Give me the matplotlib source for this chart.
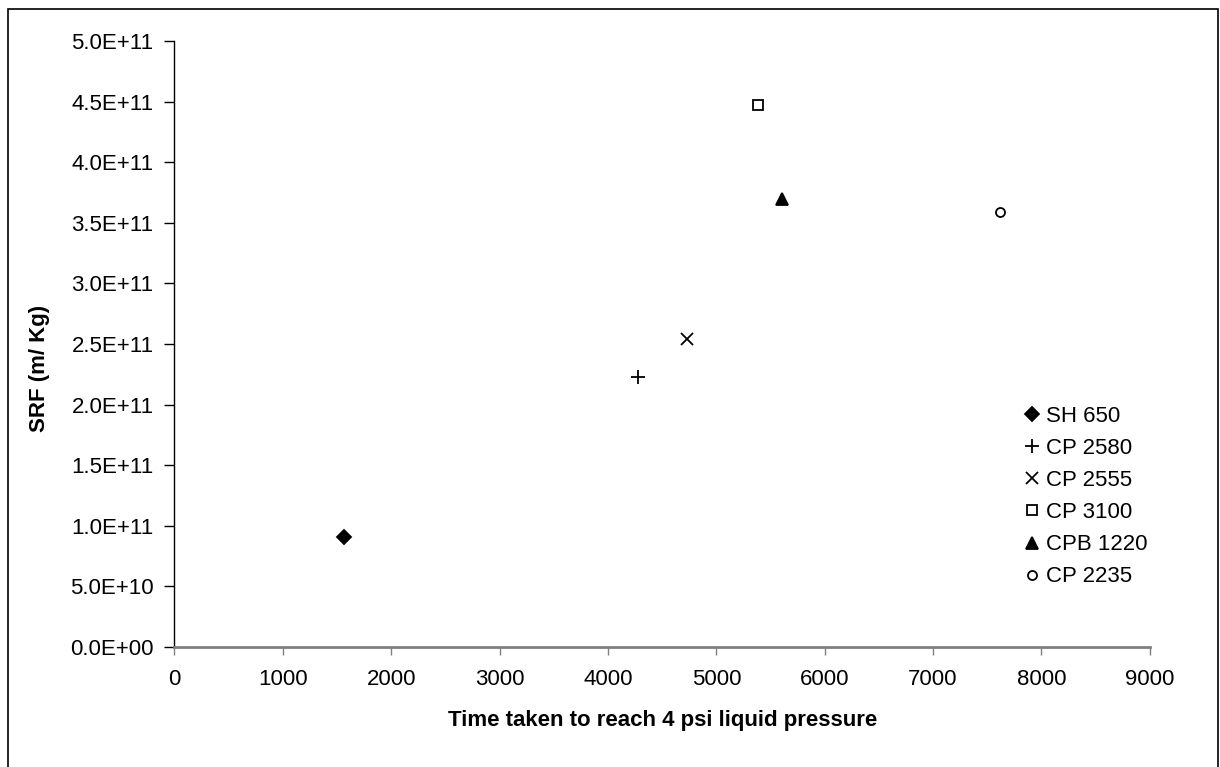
import matplotlib
matplotlib.use("Agg")
import matplotlib.pyplot as plt
from matplotlib.patches import Rectangle

plt.rcParams['font.family'] = ['Liberation Sans', 'DejaVu Sans']

# data
names = ['SH 650', 'CP 2580', 'CP 2555', 'CP 3100', 'CPB 1220', 'CP 2235']
time_taken = [1565, 4275, 4730, 5385, 5605, 7620]
srf = [9.1e10, 2.23e11, 2.54e11, 4.47e11, 3.70e11, 3.59e11]

markers = ['D', '+', 'x', 's', '^', 'o']
msizes = [7, 10, 9, 7, 9, 6.5]
filled = [True, False, False, False, True, False]

fig = plt.figure(figsize=(12.2, 7.67), dpi=100)
ax = fig.add_axes([0.143, 0.1565, 0.7995, 0.79])

for i in range(len(names)):
    fc = 'black' if filled[i] else 'none'
    ax.plot(time_taken[i], srf[i], linestyle='none', marker=markers[i],
            markersize=msizes[i], markerfacecolor=fc, markeredgecolor='black',
            markeredgewidth=1.3, label=names[i])

ax.set_xlim(0, 9000)
ax.set_ylim(0, 5e11)
ax.set_xticks(range(0, 9001, 1000))
yt = [k * 0.5e11 for k in range(11)]
ax.set_yticks(yt)
ax.set_yticklabels(['%.1E' % v for v in yt])

ax.spines['top'].set_visible(False)
ax.spines['right'].set_visible(False)
ax.spines['left'].set_color('black')
ax.spines['left'].set_linewidth(1.0)
ax.spines['bottom'].set_color('#808080')
ax.spines['bottom'].set_linewidth(2.0)

ax.tick_params(axis='y', direction='out', length=7, width=1, color='black',
               labelsize=16, pad=8)
ax.tick_params(axis='x', direction='out', length=6, width=1, color='#808080',
               labelsize=16, pad=10)

ax.set_xlabel('Time taken to reach 4 psi liquid pressure', fontsize=16,
              fontweight='bold')
ax.xaxis.set_label_coords(0.5, -0.104)
ax.set_ylabel('SRF (m/ Kg)', fontsize=16, fontweight='bold', va='center')
ax.yaxis.set_label_coords(-0.1386, 0.459)

leg = ax.legend(loc='upper left', bbox_to_anchor=(0.863, 0.4125), frameon=False,
                fontsize=16, handlelength=0.6, handletextpad=0.35,
                labelspacing=0.5, borderaxespad=0)

# outer chart border
fig.patches.append(Rectangle((8 / 1220, -0.01), 1210 / 1220, 1 - 9 / 767 + 0.01,
                             transform=fig.transFigure, fill=False,
                             edgecolor='black', linewidth=1.2))

fig.savefig('out.png', dpi=100, facecolor='white')
